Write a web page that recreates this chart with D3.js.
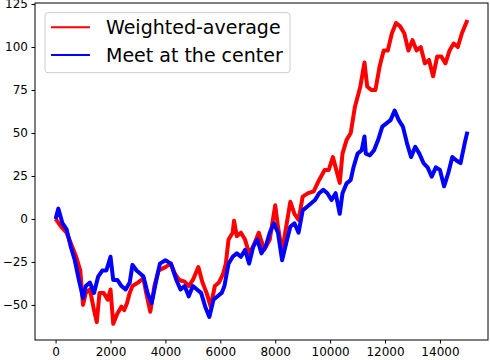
<!DOCTYPE html>
<html>
<head>
<meta charset="utf-8">
<script src="https://cdn.jsdelivr.net/npm/d3@7"></script>
<style>
  body { margin: 0; background: #fff; }
  text { font-family: "DejaVu Sans", sans-serif; }
</style>
</head>
<body>
<div id="chart"></div>
<script>
// values
const redX = [0, 200, 400, 500, 750, 900, 1000, 1100, 1250, 1400, 1500, 1600, 1750, 1900, 2000, 2100, 2250, 2400, 2500, 2600, 2700, 2800, 3000, 3200, 3300, 3450, 3600, 3750, 4000, 4200, 4350, 4500, 4700, 4850, 5000, 5200, 5350, 5500, 5650, 5800, 5950, 6100, 6200, 6300, 6450, 6500, 6600, 6750, 6900, 7050, 7200, 7400, 7600, 7800, 7950, 8000, 8100, 8250, 8400, 8550, 8700, 8850, 9000, 9200, 9400, 9600, 9800, 9950, 10100, 10200, 10350, 10450, 10600, 10750, 10900, 11100, 11250, 11350, 11500, 11650, 11800, 11950, 12100, 12250, 12400, 12550, 12700, 12850, 13000, 13150, 13300, 13450, 13600, 13750, 13900, 14050, 14200, 14350, 14500, 14650, 14800, 15000];
const redY = [0, -4.5, -8, -12, -22, -30, -50, -43, -41, -53, -60, -43, -43, -47, -41, -61, -55, -51, -53, -49, -43, -39, -37, -34.5, -43, -54, -39, -30, -28, -26, -32, -35.5, -36.5, -39, -35.5, -28, -37, -43, -51, -39, -37, -32, -26, -12, -8, -1, -10, -8, -12, -20, -16, -8, -18, -12, 3, 8, -4.5, -19, -4.5, 10, 3, -0.6, 13, 15, 16, 22.7, 28.5, 28.5, 36, 30, 21, 38, 46, 50, 65, 77, 91, 77, 75, 75, 88.5, 98, 98, 108, 114, 112, 108, 98, 104, 98, 100, 90.5, 92.5, 83, 94.5, 94.5, 90.5, 98, 102, 100, 108, 115.7];

const blueX = [0, 100, 250, 400, 550, 700, 850, 1000, 1100, 1250, 1400, 1550, 1700, 1850, 2000, 2100, 2250, 2400, 2550, 2700, 2800, 2950, 3100, 3200, 3350, 3500, 3650, 3800, 4000, 4200, 4400, 4550, 4700, 4850, 5000, 5150, 5300, 5450, 5600, 5750, 5900, 6050, 6150, 6300, 6450, 6600, 6750, 6900, 7050, 7200, 7350, 7500, 7650, 7800, 7950, 8100, 8250, 8400, 8550, 8700, 8850, 9000, 9150, 9300, 9450, 9600, 9750, 9900, 10050, 10200, 10350, 10450, 10600, 10750, 10850, 11000, 11150, 11250, 11300, 11450, 11600, 11750, 11900, 12050, 12200, 12350, 12500, 12650, 12800, 12950, 13100, 13250, 13400, 13550, 13700, 13850, 14000, 14150, 14300, 14450, 14600, 14750, 14900, 15000];
const blueY = [0, 6, -2.5, -6, -16, -24, -35.5, -46, -39, -37, -43, -33.5, -30, -30, -22, -35.5, -35.5, -39, -41, -37, -26.7, -30, -32, -33.5, -43, -49, -37, -26, -24, -26, -35.5, -41, -39, -45, -39, -41, -43, -51, -57, -47, -45, -43, -39, -26, -22, -20, -22, -18, -26, -16, -12, -20, -16, -8, -2.5, -8, -24, -14, -4.5, -2.5, -8, 5, 7, 9, 11, 15, 17, 15, 11, 15, 3, 15, 20.7, 22.7, 30, 38, 40, 48, 38, 37, 40, 46, 53.7, 55.6, 57.5, 63, 57.5, 53.7, 44, 36, 42, 38, 32.5, 30, 24.6, 30, 28.5, 19, 26.5, 36, 34, 32.5, 44, 50.8];

const xTicks = [0, 2000, 4000, 6000, 8000, 10000, 12000, 14000];
const yTicks = [-50, -25, 0, 25, 50, 75, 100, 125];
const seriesNames = ["Weighted-average", "Meet at the center"];
const seriesColors = ["#ff0000", "#0000ff"];

const W = 490, H = 360;
const plot = { left: 35, right: 488, top: 3, bottom: 340 };

const svg = d3.select("#chart").append("svg")
  .attr("width", W).attr("height", H);

const x = d3.scaleLinear().domain([-750, 15750]).range([plot.left, plot.right]);
const y = d3.scaleLinear().domain([-70.4, 125.6]).range([plot.bottom, plot.top]);

const fmt = d => (d < 0 ? "\u2212" + Math.abs(d) : String(d));

// axes
svg.append("g")
  .attr("transform", `translate(0,${plot.bottom})`)
  .call(d3.axisBottom(x).tickValues(xTicks).tickFormat(fmt).tickSizeOuter(0).tickSize(3.5).tickPadding(3.5))
  .call(g => g.select(".domain").remove())
  .call(g => g.selectAll("text").attr("font-size", 12).attr("fill", "#000").attr("font-family", "DejaVu Sans"));

svg.append("g")
  .attr("transform", `translate(${plot.left},0)`)
  .call(d3.axisLeft(y).tickValues(yTicks).tickFormat(fmt).tickSizeOuter(0).tickSize(3.5).tickPadding(3.5))
  .call(g => g.select(".domain").remove())
  .call(g => g.selectAll("text").attr("font-size", 12).attr("fill", "#000").attr("font-family", "DejaVu Sans"));

// lines
const series = [
  redX.map((v, i) => [v, redY[i]]),
  blueX.map((v, i) => [v, blueY[i]])
];
const line = d3.line().x(d => x(d[0])).y(d => y(d[1]));

svg.append("g").selectAll("path")
  .data(series)
  .join("path")
  .attr("d", line)
  .attr("fill", "none")
  .attr("stroke", (d, i) => seriesColors[i])
  .attr("stroke-width", 4)
  .attr("stroke-linejoin", "round");

// frame
svg.append("rect")
  .attr("x", plot.left).attr("y", plot.top)
  .attr("width", plot.right - plot.left).attr("height", plot.bottom - plot.top)
  .attr("fill", "none").attr("stroke", "#000").attr("stroke-width", 1);

// legend
const legend = svg.append("g");
legend.append("rect")
  .attr("x", 45).attr("y", 12.7).attr("width", 245).attr("height", 60)
  .attr("rx", 3).attr("fill", "#fff").attr("fill-opacity", 0.8)
  .attr("stroke", "#cccccc").attr("stroke-width", 1);

const rows = legend.selectAll("g.row")
  .data(seriesNames)
  .join("g")
  .attr("class", "row")
  .attr("transform", (d, i) => `translate(0,${27.3 + i * 27.7})`);
rows.append("line")
  .attr("x1", 51).attr("x2", 90)
  .attr("stroke", (d, i) => seriesColors[i]).attr("stroke-width", 2);
rows.append("text")
  .attr("x", 106).attr("dy", "0.35em")
  .attr("font-size", 19)
  .text(d => d);
</script>
</body>
</html>
